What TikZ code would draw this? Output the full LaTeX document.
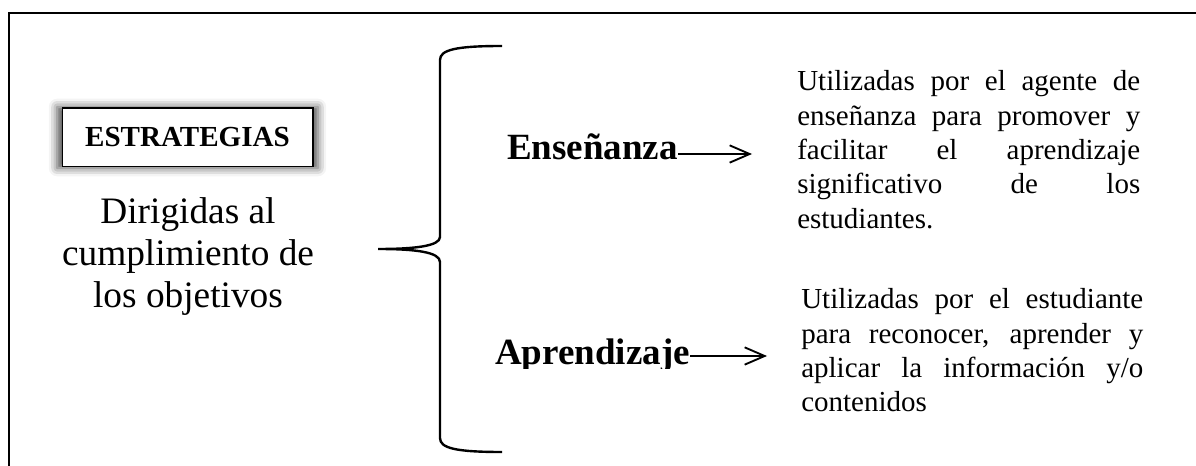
\documentclass[tikz,border=0pt]{standalone}
\usepackage{fontspec}
\setmainfont{Liberation Serif}
\usetikzlibrary{arrows.meta,shadows.blur}
\tikzset{
  frame/.style={line width=1.5pt},
  titlebox/.style={draw, line width=1pt, fill=white, minimum width=188pt, minimum height=44pt, inner sep=0pt,
    font=\fontsize{21.8}{26}\selectfont\bfseries,
    blur shadow={shadow xshift=0pt, shadow yshift=0pt, shadow blur radius=6pt, shadow opacity=70, shadow scale=1.04}},
  bigtext/.style={align=center, inner sep=0pt, font=\fontsize{28}{31.5}\selectfont},
  branch/.style={anchor=base west, inner sep=0pt, font=\fontsize{27.75}{32}\selectfont\bfseries},
  desc/.style={anchor=base west, inner sep=0pt, align=justify, font=\fontsize{21.75}{25.7}\selectfont},
  brace/.style={line width=1.8pt},
  arr/.style={line width=1.4pt, -{Straight Barb[length=15pt, width=13pt, line width=1.4pt]}}
}
\begin{document}
\begin{tikzpicture}[x=0.75pt, y=-0.75pt]
\useasboundingbox (0,0) rectangle (1196,466);
% outer frame (only top and left edges visible)
\draw[frame] (9,466) -- (9,13) -- (1196,13);
% title box
\node[titlebox] (estr) at (187.5,137.5) {ESTRATEGIAS};
\node[bigtext, anchor=base] (dir) at (188,308) {Dirigidas al\\cumplimiento de\\los objetivos};
% brace
\draw[brace] (502,46) .. controls (455,46) and (440,50) .. (440,60)
  -- (440,237) .. controls (440,246) and (415,249) .. (378,249)
  .. controls (415,249) and (440,252) .. (440,262)
  -- (440,438) .. controls (440,448) and (455,452) .. (502,452);
% branches
\node[branch] (ens) at (507,160) {Enseñanza};
\begin{scope}
  \clip (480,300) rectangle (700,369);
  \node[branch] (apr) at (495,365) {Aprendizaje};
\end{scope}
\coordinate (e1) at (752,154);
\coordinate (e2) at (767,356);
\draw[arr] ([yshift=4.5pt]ens.base east) -- (e1);
\draw[arr] ([yshift=6.75pt]apr.base east) -- (e2);
% descriptions
\node[desc, text width=257.25pt] (t1) at (797,91) {Utilizadas por el agente de\linebreak enseñanza para promover y\linebreak facilitar el aprendizaje\linebreak significativo de los\linebreak estudiantes.};
\node[desc, text width=256.5pt] (t2) at (801,309) {Utilizadas por el estudiante\linebreak para reconocer, aprender y\linebreak aplicar la información y/o\linebreak contenidos};
\end{tikzpicture}
\end{document}
